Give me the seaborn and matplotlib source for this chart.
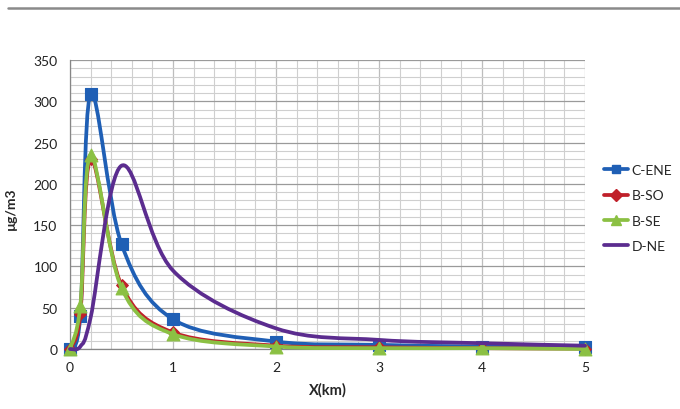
import numpy as np
import seaborn as sns
import matplotlib
matplotlib.use("Agg")
import matplotlib.pyplot as plt
from matplotlib.path import Path
from matplotlib.patches import PathPatch
from matplotlib.lines import Line2D
from matplotlib.ticker import MultipleLocator

# distances (km) and concentrations
x_km = [0, 0.1, 0.2, 0.5, 1, 2, 3, 4, 5]
c_ene = [0, 40, 309, 127, 36, 9, 5, 3, 2]
b_so = [0, 42, 230, 77, 20, 4, 2, 1, 0.5]
b_se = [0, 52, 235, 74, 18, 3, 1, 1, 0]
d_ne = [0, 3, 38, 222, 95, 25, 11, 7, 4]

series_names = ["C-ENE", "B-SO", "B-SE", "D-NE"]
x_ticks = [0, 1, 2, 3, 4, 5]
y_ticks = [0, 50, 100, 150, 200, 250, 300, 350]

sns.set_style("white")
plt.rcParams["font.family"] = ["Lato", "DejaVu Sans"]


def smooth_path(xs, ys):
    # Excel-like smoothed line: Catmull-Rom converted to cubic Bezier
    p = np.column_stack([xs, ys]).astype(float)
    n = len(p)
    verts = [p[0]]
    codes = [Path.MOVETO]
    for i in range(n - 1):
        p0 = p[i - 1] if i > 0 else p[i]
        p1 = p[i]
        p2 = p[i + 1]
        p3 = p[i + 2] if i + 2 < n else p[i + 1]
        verts += [p1 + (p2 - p0) / 6, p2 - (p3 - p1) / 6, p2]
        codes += [Path.CURVE4] * 3
    return Path(verts, codes)


fig = plt.figure(figsize=(6.8, 4.1), dpi=100)
ax = fig.add_axes([70 / 680, 1 - 350 / 410, 515 / 680, 289 / 410])

styles = [
    (c_ene, "#1F5FB5", "s", 64),
    (b_so, "#C0202A", "D", 36),
    (b_se, "#8BC043", "^", 85),
    (d_ne, "#5B2C8F", None, 0),
]

z = 3
for vals, col, mk, ms in styles:
    patch = PathPatch(smooth_path(x_km, vals), facecolor="none", edgecolor=col,
                      lw=2.7, zorder=z, clip_on=False, capstyle="round", joinstyle="round")
    ax.add_patch(patch)
    if mk is not None:
        sns.scatterplot(x=x_km, y=vals, marker=mk, s=ms, color=col, edgecolor=col,
                        linewidth=0.8, zorder=z + 1, clip_on=False, ax=ax, legend=False)
    z += 2

ax.set_xlim(0, 5)
ax.set_ylim(0, 350)
ax.set_xticks(x_ticks)
ax.set_yticks(y_ticks)
ax.xaxis.set_minor_locator(MultipleLocator(0.2))
ax.yaxis.set_minor_locator(MultipleLocator(10))
ax.grid(which="major", axis="y", color="#9A9A9A", lw=0.9)
ax.grid(which="major", axis="x", color="#BDBDBD", lw=0.9)
ax.grid(which="minor", color="#CFCFCF", lw=0.8)
ax.set_axisbelow(True)
for s in ["top", "right"]:
    ax.spines[s].set_visible(False)
for s in ["left", "bottom"]:
    ax.spines[s].set_color("#868686")
    ax.spines[s].set_linewidth(0.9)
ax.tick_params(which="both", length=0, labelsize=10, colors="#222222")
ax.tick_params(axis="x", pad=9)
ax.tick_params(axis="y", pad=9)

ax.set_xlabel("X(km)", fontsize=10.5, fontweight="bold", labelpad=6)
fig.text(0.016, 0.49, "µg/m3", rotation=90, fontsize=10, fontweight="bold",
         ha="center", va="center")

handles = []
for (vals, col, mk, ms), name in zip(styles, series_names):
    handles.append(Line2D([], [], color=col, lw=2.7, marker=mk if mk else None,
                          markersize=6 if mk != "^" else 7, markeredgecolor=col))
fig.legend(handles, series_names, loc="center left", bbox_to_anchor=(597 / 680, 1 - 209 / 410),
           frameon=False, fontsize=10, handlelength=1.75, handletextpad=0.25,
           labelspacing=0.95, borderpad=0)

# rule across the top of the page
fig.add_artist(Line2D([8 / 680, 1], [1 - 9 / 410, 1 - 9 / 410], color="#8A8A8A", lw=1.8))

fig.savefig("out.png", dpi=100)
